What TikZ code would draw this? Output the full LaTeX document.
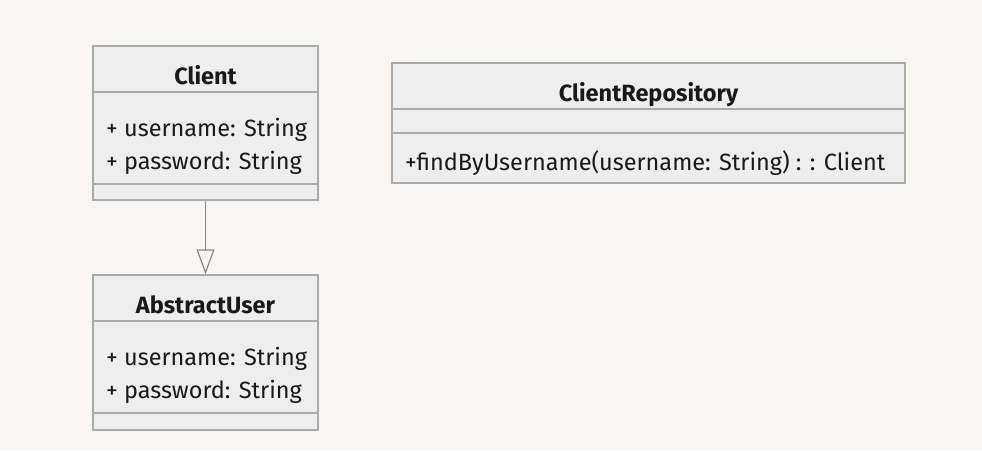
\documentclass[tikz,border=0pt]{standalone}
\usepackage{fontspec}
\setmainfont{Fira Sans}
\usetikzlibrary{arrows.meta}

\definecolor{bgcol}{RGB}{247,246,243}
\definecolor{boxfill}{RGB}{238,238,238}
\definecolor{boxline}{RGB}{170,170,170}
\definecolor{linkline}{RGB}{136,136,136}
\definecolor{txt}{RGB}{25,25,25}

\begin{document}
\begin{tikzpicture}[x=1pt,y=-1pt,
		classbox/.style={draw=boxline,fill=boxfill,line width=1.3pt,inner sep=0pt},
		divider/.style={draw=boxline,line width=1.3pt},
		classname/.style={anchor=base,inner sep=0pt,text=txt,font=\bfseries\fontsize{23.5}{28}\selectfont},
		member/.style={anchor=base west,inner sep=0pt,text=txt,font=\fontsize{23.5}{28}\selectfont},
		inherit/.style={draw=linkline,line width=1.2pt,-{Triangle[open,length=25pt,width=18pt]}}]

			% Hintergrund
			\fill[bgcol] (0,0) rectangle (982,450);
			\useasboundingbox (0,0) rectangle (982,450);

			% Client
			\node[classbox,minimum width=225pt,minimum height=154pt] (client) at (205.5,123) {};
			\draw[divider] (93,92) -- (318,92);
			\draw[divider] (93,184) -- (318,184);
			\node[classname] (clientname) at (205.5,84) {Client};
			\node[member] (clientuser) at (106,136) {+ username: String};
			\node[member] (clientpass) at (106,169) {+ password: String};

			% AbstractUser
			\node[classbox,minimum width=225pt,minimum height=155pt] (abstract) at (205.5,352.5) {};
			\draw[divider] (93,321) -- (318,321);
			\draw[divider] (93,413) -- (318,413);
			\node[classname] (abstractname) at (205.5,313) {AbstractUser};
			\node[member] (abstractuser) at (106,365) {+ username: String};
			\node[member] (abstractpass) at (106,398) {+ password: String};

			% ClientRepository
			\node[classbox,minimum width=513pt,minimum height=120pt] (repo) at (648.5,123) {};
			\draw[divider] (392,109) -- (905,109);
			\draw[divider] (392,133) -- (905,133);
			\node[classname] (reponame) at (648.5,101) {ClientRepository};
			\node[member] (repofind) at (405,170) {+findByUsername(username: String) : : Client};

			% Vererbung
			\draw[inherit] (client.south) -- (abstract.north);

		\end{tikzpicture}
\end{document}
